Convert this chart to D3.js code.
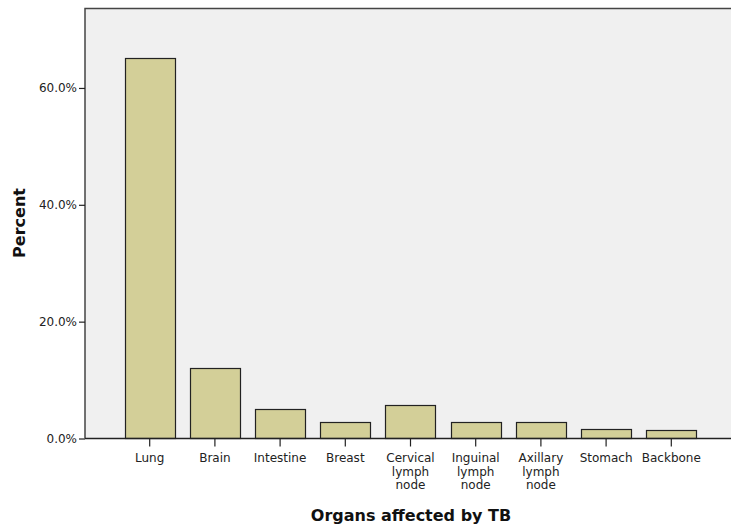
<!DOCTYPE html>
<html>
<head>
<meta charset="utf-8">
<script src="https://cdn.jsdelivr.net/npm/d3@7"></script>
<style>
  body { margin: 0; background: #fff; }
  svg { display: block; font-family: "DejaVu Sans", sans-serif; }
</style>
</head>
<body>
<div id="chart"></div>
<script>
// organs and percent of cases
let organs = ["Lung", "Brain", "Intestine", "Breast", "Cervical lymph node", "Inguinal lymph node", "Axillary lymph node", "Stomach", "Backbone"];
let organLines = [["Lung"], ["Brain"], ["Intestine"], ["Breast"], ["Cervical", "lymph", "node"], ["Inguinal", "lymph", "node"], ["Axillary", "lymph", "node"], ["Stomach"], ["Backbone"]];
let percents = [65.2, 12.1, 5.1, 2.9, 5.8, 2.9, 2.9, 1.7, 1.4];
let yTicks = [0, 20, 40, 60];

let width = 731, height = 529;
let plotLeft = 85, plotTop = 8.5, plotBottom = 438.5, plotRight = 740;

let svg = d3.select("#chart").append("svg").attr("width", width).attr("height", height);

let x = d3.scaleBand()
  .domain(organs)
  .range([117.1, 703.9])
  .paddingInner(0.233)
  .paddingOuter(0.1165);

let y = d3.scaleLinear()
  .domain([0, 73.6])
  .range([plotBottom, plotTop]);

// plot background
svg.append("rect")
  .attr("x", plotLeft).attr("y", plotTop)
  .attr("width", plotRight - plotLeft).attr("height", plotBottom - plotTop)
  .attr("fill", "#f0f0f0");

// bars
svg.selectAll("rect.bar")
  .data(percents)
  .enter().append("rect")
    .attr("class", "bar")
    .attr("x", function(d, i){ return Math.round(x(organs[i])) + 0.5; })
    .attr("y", function(d){ return Math.round(y(d)) + 0.5; })
    .attr("width", Math.round(x.bandwidth()))
    .attr("height", function(d){ return plotBottom - Math.round(y(d)) - 0.5; })
    .attr("fill", "#d3cf98")
    .attr("stroke", "#222")
    .attr("stroke-width", 1.2);

// frame: top and left
svg.append("path")
  .attr("d", "M" + plotLeft + "," + plotBottom + "V" + plotTop + "H" + plotRight)
  .attr("fill", "none")
  .attr("stroke", "#444")
  .attr("stroke-width", 1.5);

// y axis
let yAxis = svg.append("g").attr("transform", "translate(" + plotLeft + ",0)")
  .call(d3.axisLeft(y).tickValues(yTicks).tickSize(6).tickPadding(2)
    .tickFormat(function(d){ return d.toFixed(1) + "%"; }));
yAxis.select(".domain").remove();
yAxis.selectAll("line").attr("stroke", "#222").attr("stroke-width", 1.2);
yAxis.selectAll("text").attr("font-size", 12).attr("fill", "#222")
  .attr("font-family", "'DejaVu Sans', sans-serif");

// x axis
let xAxis = svg.append("g").attr("transform", "translate(0," + plotBottom + ")")
  .call(d3.axisBottom(x).tickSize(8).tickFormat(""));
xAxis.select(".domain").remove();
xAxis.selectAll("line").attr("stroke", "#222").attr("stroke-width", 1.2);

svg.append("line")
  .attr("x1", plotLeft).attr("x2", plotRight)
  .attr("y1", plotBottom).attr("y2", plotBottom)
  .attr("stroke", "#222").attr("stroke-width", 1.5);

// category labels, multi-line
organLines.forEach(function(lines, i) {
  let t = svg.append("text")
    .attr("x", x(organs[i]) + x.bandwidth() / 2)
    .attr("y", 462)
    .attr("text-anchor", "middle")
    .attr("font-size", 12)
    .attr("fill", "#222");
  lines.forEach(function(s, j) {
    t.append("tspan")
      .attr("x", x(organs[i]) + x.bandwidth() / 2)
      .attr("dy", j === 0 ? 0 : 13.5)
      .text(s);
  });
});

// axis titles
svg.append("text")
  .attr("x", 411).attr("y", 521)
  .attr("text-anchor", "middle")
  .attr("font-size", 16).attr("font-weight", "bold")
  .attr("fill", "#111")
  .text("Organs affected by TB");

svg.append("text")
  .attr("transform", "translate(25,223) rotate(-90)")
  .attr("text-anchor", "middle")
  .attr("font-size", 16).attr("font-weight", "bold")
  .attr("fill", "#111")
  .text("Percent");
</script>
</body>
</html>
